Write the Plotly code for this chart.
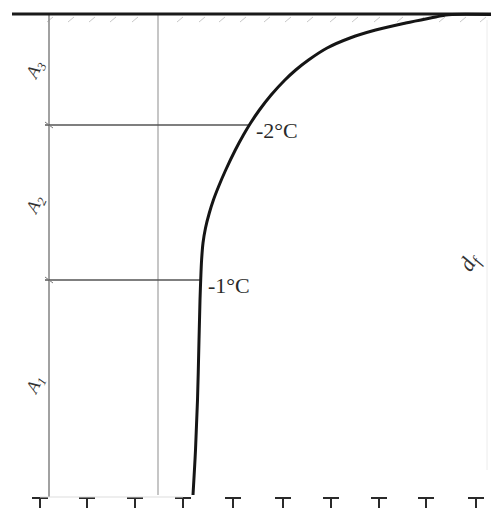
import plotly.graph_objects as go

# --- data (horizontal position, depth; depth axis grows downward) ---
curve_x = [491, 452, 445.7, 435.7, 405.7, 375.6, 350, 327.1, 308.5, 295.7, 284.9, 271.1, 259.4, 250.6,
           243.4, 235.3, 225.7, 218.4, 213.4, 209.3, 205.5, 203, 201.6, 200.7, 200, 199, 197.5, 195.5, 193]
curve_depth = [14.5, 14.5, 15, 17, 23, 30, 38, 48, 60, 70, 80, 95, 110, 123,
               135, 150, 170, 187, 200, 213, 228, 243, 260, 280, 300, 340, 400, 450, 495]

surface_x = [12, 491]
surface_depth = [14, 14]

isotherm_labels = ["-2°C", "-1°C"]
isotherm_depth = [125, 280]
isotherm_x_end = [249, 201]

layer_labels = ["A<sub>3</sub>", "A<sub>2</sub>", "A<sub>1</sub>"]
layer_depth = [70, 205, 385]

axis_x = 49
ref_x = 158
right_x = 487
bottom_depth = 497

hatch_x = [50, 71, 92, 113, 135, 180, 202, 222, 243, 267, 288, 310, 333, 355, 377, 400, 421, 442, 463, 483]
peg_x = [40, 87, 135, 183, 233, 283, 331, 379, 426, 476]

fig = go.Figure()

# faint hatching under the surface line
hx, hy = [], []
for x in hatch_x:
    hx += [x - 3, x + 3, None]
    hy += [22, 17, None]
fig.add_trace(go.Scatter(x=hx, y=hy, mode="lines", line=dict(color="#c8c8c8", width=1), hoverinfo="skip"))

# vertical reference lines
fig.add_trace(go.Scatter(x=[axis_x, axis_x], y=[14, bottom_depth], mode="lines",
                         line=dict(color="#8a8a8a", width=1.6), hoverinfo="skip"))
fig.add_trace(go.Scatter(x=[ref_x, ref_x], y=[14, 495], mode="lines",
                         line=dict(color="#a8a8a8", width=1.3), hoverinfo="skip"))
fig.add_trace(go.Scatter(x=[right_x, right_x], y=[20, 470], mode="lines",
                         line=dict(color="#ececec", width=1), hoverinfo="skip"))

# isotherm horizontal lines
for d, xe in zip(isotherm_depth, isotherm_x_end):
    fig.add_trace(go.Scatter(x=[axis_x - 4, xe], y=[d, d], mode="lines",
                             line=dict(color="#555555", width=1.5), hoverinfo="skip"))
    fig.add_trace(go.Scatter(x=[axis_x - 4, axis_x + 4], y=[d - 3, d + 3], mode="lines",
                             line=dict(color="#777777", width=1), hoverinfo="skip"))

# surface line
fig.add_trace(go.Scatter(x=surface_x, y=surface_depth, mode="lines",
                         line=dict(color="#1a1a1a", width=3.2), hoverinfo="skip"))

# temperature curve
fig.add_trace(go.Scatter(x=curve_x, y=curve_depth, mode="lines",
                         line=dict(color="#151515", width=3, shape="spline", smoothing=1.0),
                         hoverinfo="skip"))

# bottom pegs (T marks)
px, py = [], []
for x in peg_x:
    px += [x - 8, x + 8, None, x, x, None]
    py += [498, 498, None, 498, 510, None]
fig.add_trace(go.Scatter(x=px, y=py, mode="lines", line=dict(color="#2a2a2a", width=2), hoverinfo="skip"))
fig.add_trace(go.Scatter(x=[peg_x[0], peg_x[3]], y=[497, 497], mode="lines",
                         line=dict(color="#dddddd", width=1), hoverinfo="skip"))

serif = "Liberation Serif, Times New Roman, serif"

for lab, d, xe in zip(isotherm_labels, isotherm_depth, isotherm_x_end):
    fig.add_annotation(x=xe + 5, y=d + 5, text=lab, showarrow=False, xanchor="left", yanchor="middle",
                       font=dict(family=serif, size=22, color="#2a2a2a"))

for lab, d in zip(layer_labels, layer_depth):
    fig.add_annotation(x=35, y=d, text="<i>" + lab + "</i>", showarrow=False, textangle=-65,
                       font=dict(family=serif, size=18, color="#333333"))

fig.add_annotation(x=470, y=262, text="<i>d<sub>f</sub></i>", showarrow=False, textangle=-60,
                   font=dict(family=serif, size=22, color="#333333"))

fig.update_layout(
    width=491, height=508, margin=dict(l=0, r=0, t=0, b=0),
    paper_bgcolor="white", plot_bgcolor="white", showlegend=False,
    xaxis=dict(range=[0, 491], visible=False, fixedrange=True),
    yaxis=dict(range=[508, 0], visible=False, fixedrange=True),
)

fig.write_html("out.html", config={"displayModeBar": False},
               post_script="document.body.style.margin='0';document.body.style.overflow='hidden';")
